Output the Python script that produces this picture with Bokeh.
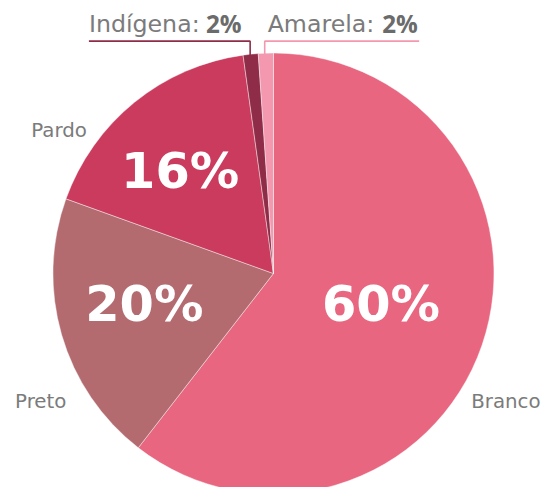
import numpy as np
from bokeh.plotting import figure
from bokeh.models import Range1d, ColumnDataSource
from bokeh.core.properties import value
from bokeh.embed import file_html
from bokeh.resources import INLINE

# ---- data ----
categories = ["Branco", "Preto", "Pardo", "Indígena", "Amarela"]
shares = [60.5, 20.0, 17.3, 1.1, 1.1]
pct_labels = ["60%", "20%", "16%", "2%", "2%"]
colors = ["#E8667F", "#B36B70", "#CB3B5E", "#8F2D48", "#F398AF"]

# ---- layout: positions given in reference-image pixels, scaled to fit ----
REF_W, REF_H = 559, 503
FIG_W, FIG_H = 543, 487
SX = FIG_W / REF_W
SY = FIG_H / REF_H
S = min(SX, SY)

def py(y):
    return REF_H - y

def fs(px):
    return px * S

def base(y, size_px):
    # baseline correction for svg text placement (in data units)
    return py(y) + 0.38 * fs(size_px) / SY

CX, CY, R = 281, 282, 227
FONT = "DejaVu Sans"
FONT_B = "Open Sans"
GREY = "#7B7B7B"
GREY_B = "#6B6B6B"

p = figure(width=FIG_W, height=FIG_H, x_range=Range1d(0, REF_W), y_range=Range1d(0, REF_H),
           output_backend="svg", toolbar_location=None, min_border=0,
           x_axis_location=None, y_axis_location=None)
p.grid.visible = False
p.outline_line_color = None
p.background_fill_color = "white"
p.border_fill_color = "white"

tot = float(sum(shares))
cum = np.concatenate([[0.0], np.cumsum(shares)]) / tot
start = np.pi / 2 - 2 * np.pi * cum[:-1]
end = np.pi / 2 - 2 * np.pi * cum[1:]
src = ColumnDataSource(dict(cat=categories, start=start, end=end, color=colors))
p.wedge(x=CX, y=py(CY), radius=R, start_angle="start", end_angle="end",
        direction="clock", fill_color="color", line_color="white",
        line_width=0.6, line_alpha=0.7, source=src)

# big percentage labels (Branco, Preto, Pardo)
BIG = 51
big_pos = {"Branco": (391.7, 333), "Preto": (148, 333), "Pardo": (185, 195)}
bx, by, bt = [], [], []
for c, l in zip(categories, pct_labels):
    if c in big_pos:
        bx.append(big_pos[c][0]); by.append(base(big_pos[c][1], BIG)); bt.append(l)
p.text(x=bx, y=by, text=bt, text_align="center", text_baseline="alphabetic",
       text_color="white", text_font=value(FONT), text_font_style="bold",
       text_font_size=f"{fs(BIG):.1f}px")

# category names around the pie
NAME = 20.5
name_pos = {"Branco": (556, 421.7, "right"), "Preto": (15, 421.7, "left"),
            "Pardo": (31.7, 141.7, "left")}
for c in categories:
    if c in name_pos:
        x0, y0, al = name_pos[c]
        p.text(x=[x0], y=[base(y0, NAME)], text=[c], text_align=al,
               text_baseline="alphabetic", text_color=GREY, text_font=value(FONT),
               text_font_size=f"{fs(NAME):.1f}px")

# small slices: top labels with leader lines
TOP = 24.5
TOP_B = 25
small = {"Indígena": dict(lx=91, bx=211.5, line=([91, 257, 257], [42, 42, 58])),
         "Amarela": dict(lx=275, bx=393, line=([272, 272, 431], [57, 42, 42]))}
for c, l, col in zip(categories, pct_labels, colors):
    if c in small:
        s = small[c]
        p.text(x=[s["lx"]], y=[base(33.3, TOP)], text=[c + ":"], text_align="left",
               text_baseline="alphabetic", text_color=GREY, text_font=value(FONT),
               text_font_size=f"{fs(TOP):.1f}px")
        p.text(x=[s["bx"]], y=[base(33.3, TOP_B)], text=[l], text_align="left",
               text_baseline="alphabetic", text_color=GREY_B, text_font=value(FONT_B),
               text_font_style="bold", text_font_size=f"{fs(TOP_B):.1f}px")
        xs, ys = s["line"]
        p.line(x=xs, y=[py(v) for v in ys], line_color=col, line_width=1.6)

open("out.html", "w").write(file_html(p, INLINE))
